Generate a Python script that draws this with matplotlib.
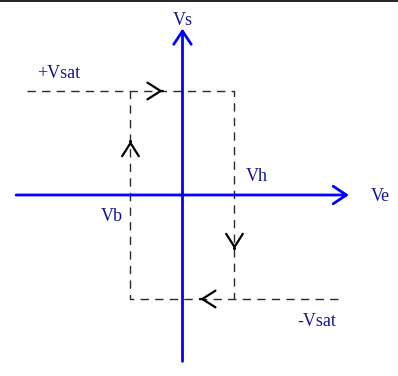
import matplotlib
matplotlib.use("Agg")
import matplotlib.pyplot as plt
from matplotlib.lines import Line2D

# --- data (conceptual units) ---
v_sat = 10.0          # +Vsat / -Vsat level
v_h = 5.0             # upper threshold
v_b = -5.0            # lower threshold
ve_span = 15.0        # extent of dashed saturation lines
axis_len = 16.0       # half-length of the axes

upper_x = [-ve_span, v_h, v_h]
upper_y = [v_sat, v_sat, -v_sat]
lower_x = [ve_span, v_b, v_b]
lower_y = [-v_sat, -v_sat, v_sat]

# direction chevrons: (tip x, tip y, dx, dy)
chevrons = [(-1.9, v_sat, 1, 0), (v_b, 5.2, 0, 1), (v_h, -5.2, 0, -1), (1.7, -v_sat, -1, 0)]

labels = ["Vs", "Ve", "+Vsat", "-Vsat", "Vh", "Vb"]

fig = plt.figure(figsize=(3.98, 3.76), dpi=100)
ax = fig.add_axes([0, 0, 1, 1])
scale = 10.4  # px per unit
ox, oy = 182.5, 195.0
ax.set_xlim(-ox / scale, (398 - ox) / scale)
ax.set_ylim((oy - 376) / scale, oy / scale)
ax.axis("off")

# top border line
fig.add_artist(Line2D([0, 1], [0.9985, 0.9985], transform=fig.transFigure, color="black", lw=1.2))

dash_kw = dict(color="#2a2a2a", lw=1.0, linestyle=(0, (6, 4.5)))
ax.plot(upper_x, upper_y, **dash_kw)
ax.plot(lower_x, lower_y, **dash_kw)

# axes arrows
axis_style = "->,head_length=0.95,head_width=0.63"
ax.annotate("", xy=(axis_len, 0), xytext=(-axis_len, 0),
            arrowprops=dict(arrowstyle=axis_style, color="#0000ff", lw=2,
                            shrinkA=0, shrinkB=0, mutation_scale=10))
ax.annotate("", xy=(0, axis_len), xytext=(0, -axis_len),
            arrowprops=dict(arrowstyle=axis_style, color="#0000ff", lw=2,
                            shrinkA=0, shrinkB=0, mutation_scale=10))

chev_style = "->,head_length=0.95,head_width=0.6"
for tx, ty, dx, dy in chevrons:
    ax.annotate("", xy=(tx, ty), xytext=(tx - 0.05 * dx, ty - 0.05 * dy),
                arrowprops=dict(arrowstyle=chev_style, color="black", lw=1.6,
                                shrinkA=0, shrinkB=0, mutation_scale=10))

tcol = "#14148c"
tkw = dict(color=tcol, fontsize=13, family="Liberation Serif", va="baseline", ha="center")

def px(x, y):
    return ((x - ox) / scale, (oy - y) / scale)

ax.text(*px(182.5, 25), labels[0], **tkw)
ax.text(*px(380.5, 201.5), labels[1], **tkw)
ax.text(*px(58.5, 77.5), labels[2], **tkw)
ax.text(*px(317, 326.5), labels[3], **tkw)
ax.text(*px(257, 181.5), labels[4], **tkw)
ax.text(*px(112, 221.5), labels[5], **tkw)

fig.savefig("out.png", dpi=100, facecolor="white")
